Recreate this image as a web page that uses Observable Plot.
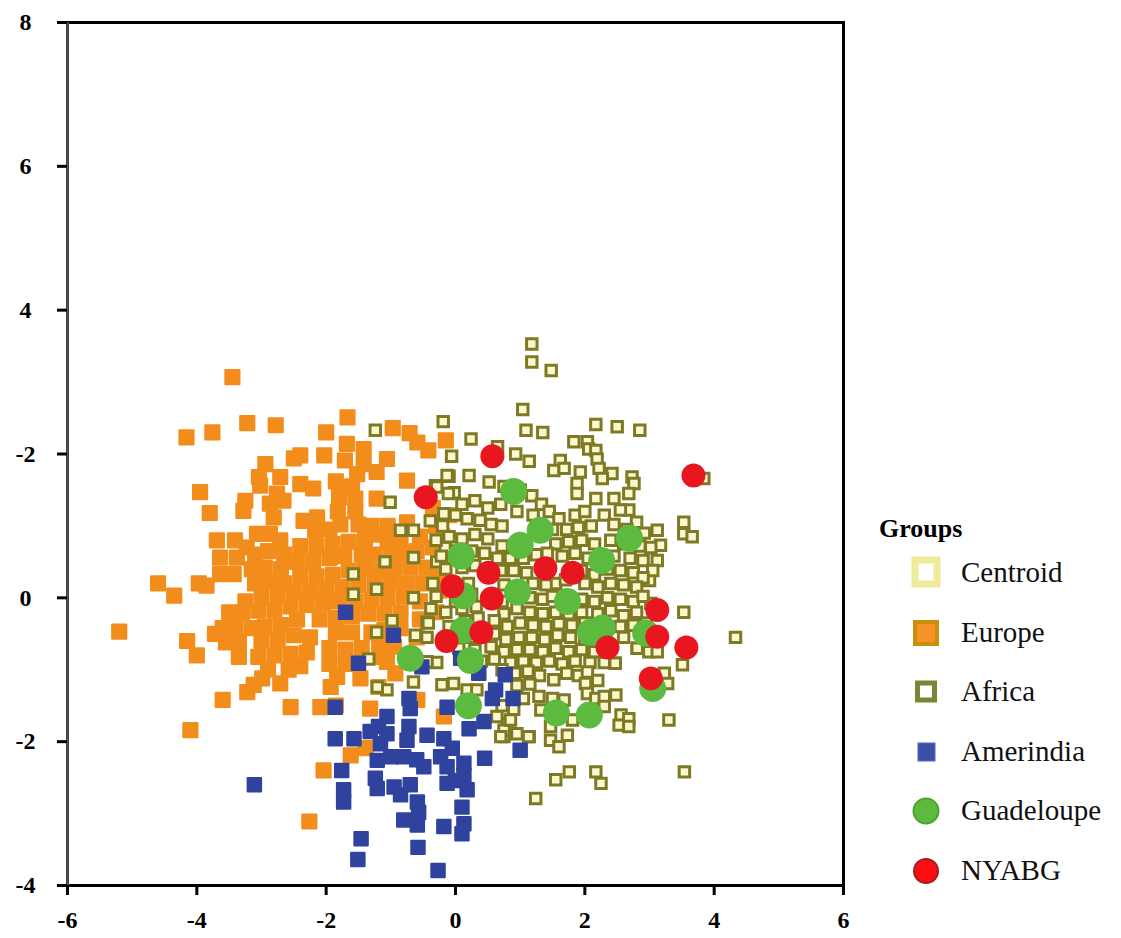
<!DOCTYPE html>
<html>
<head>
<meta charset="utf-8">
<script src="https://cdn.jsdelivr.net/npm/d3@7"></script>
<script src="https://cdn.jsdelivr.net/npm/@observablehq/plot@0.6"></script>
<style>
html,body{margin:0;padding:0;background:#fff}
#wrap{position:relative;width:1121px;height:938px;overflow:hidden;font-family:"Liberation Serif",serif}
#legend{position:absolute;left:0;top:0;width:1121px;height:938px;pointer-events:none}
#legend .t{position:absolute;font-weight:bold;font-size:26px;color:#000;line-height:30px}
#legend .l{position:absolute;left:961px;font-size:29px;color:#111;line-height:34px;white-space:nowrap}
#legend svg{position:absolute;left:905px;width:44px;height:44px;overflow:visible}
</style>
</head>
<body>
<div id="wrap"><div id="chart"></div><div id="legend"></div></div>
<script>
const xTicks = [-6,-4,-2,0,2,4,6];
const yTicks = [-4,-2,0,2,4,6,8];
const yTickLabels = ["-4","-2","0","-2","4","6","8"];

const europe = [
[-5.2,-.47],[-4.6,.2],[-4.35,.03],[-4.15,-.6],[-4.0,-.8],[-3.97,.2],[-3.85,.17],[-3.72,-.5],[-4.1,-1.84],[-3.6,-1.42],
[-3.45,3.07],[-4.16,2.23],[-3.76,2.3],[-3.22,2.43],[-2.78,2.4],[-2.0,2.3],[-1.67,2.51],[-.97,2.36],[-.71,2.29],[-.59,2.16],[-.42,2.05],[-.15,2.19],
[-2.4,1.98],[-2.5,1.94],[-2.03,1.98],[-1.68,2.14],[-1.42,2.07],[-1.71,1.91],[-1.42,1.86],[-1.06,1.93],[-1.22,1.75],[-1.52,1.72],[-.75,1.63],[-1.22,1.38],
[-2.94,1.86],[-3.04,1.68],[-3.02,1.56],[-2.71,1.68],[-2.76,1.45],[-2.4,1.58],[-2.2,1.52],[-3.25,1.35],[-3.28,1.21],[-3.95,1.47],[-3.8,1.18],[-2.87,1.31],[-2.66,1.35],[-2.81,1.12],
[-1.85,1.62],[-1.6,1.55],[-1.8,1.4],[-1.55,1.38],[-1.82,1.2],[-1.55,1.2],[-1.78,1.02],[-1.5,1.02],[-2.35,1.07],[-2.14,1.12],[-2.17,.94],[-1.95,.95],
[-3.07,.89],[-3.23,.7],[-2.87,.89],[-2.71,.8],[-3.69,.8],[-3.41,.8],[-3.64,.56],[-3.38,.56],[-3.64,.33],[-3.43,.33],[-3.1,.6],[-2.9,.65],[-2.65,.6],[-2.4,.72],[-2.15,.72],[-1.9,.75],[-1.65,.78],[-1.4,.82],[-1.2,.88],[-1.05,.78],[-.85,.8],[-.55,.85],[-.3,1.0],
[-3.15,.4],[-2.95,.42],[-2.7,.4],[-2.45,.5],[-2.2,.5],[-1.95,.55],[-1.72,.58],[-1.45,.6],[-1.25,.6],[-1.0,.6],[-.8,.62],[-.6,.65],[-.35,.7],[-.2,.55],
[-3.1,.2],[-2.9,.22],[-2.65,.2],[-2.4,.3],[-2.15,.3],[-1.9,.32],[-1.65,.38],[-1.4,.4],[-1.15,.38],[-.95,.42],[-.7,.42],[-.45,.42],[-.25,.3],
[-3.25,-.05],[-3.0,0],[-2.75,.02],[-2.5,.08],[-2.25,.1],[-2,.12],[-1.75,.15],[-1.5,.18],[-1.25,.18],[-1,.22],[-.75,.2],[-.5,.2],
[-3.5,-.2],[-3.3,-.2],[-3.05,-.18],[-2.8,-.18],[-2.55,-.12],[-2.3,-.1],[-2.05,-.08],[-1.8,-.05],[-1.55,-.05],[-1.3,-.02],[-1.05,0],[-.8,.02],[-.55,-.05],
[-3.6,-.42],[-3.4,-.38],[-3.15,-.42],[-2.95,-.4],[-2.7,-.38],[-2.45,-.3],[-2.1,-.3],[-1.85,-.28],[-1.6,-.25],[-1.35,-.22],[-1.1,-.22],[-.85,-.2],[-.55,-.3],
[-3.55,-.62],[-3.35,-.6],[-3.0,-.6],[-2.75,-.6],[-2.5,-.52],[-2.25,-.55],[-1.85,-.48],[-1.6,-.48],[-1.3,-.48],[-1.1,-.45],[-.85,-.42],[-.6,-.55],
[-3.35,-.82],[-3.05,-.82],[-2.8,-.8],[-2.55,-.78],[-2.3,-.76],[-1.95,-.7],[-1.7,-.72],[-1.45,-.7],[-1.18,-.65],[-.95,-.68],
[-2.9,-1.0],[-2.58,-1.0],[-2.4,-.95],[-1.95,-.92],[-1.7,-.92],[-1.12,-.82],[-1.06,-.89],[-.93,-1.05],
[-3.22,-1.31],[-3.12,-1.21],[-2.99,-1.12],[-2.71,-1.19],[-1.93,-1.24],[-1.83,-1.1],[-1.47,-1.12],[-1.19,-1.24],[-1.32,-1.54],[-2.55,-1.52],[-2.09,-1.52],[-.59,-1.42],[-.18,-1.65],
[-1.62,-2.19],[-2.04,-2.4],[-2.26,-3.11],[-1.39,-2.09],[-1.85,-1.5],
[-.25,.1],[-.3,-.2],[-.2,.85],[-.1,1.15],[-.35,1.25],[-1.3,1.0],[-1.05,1.0],[-.75,1.05]
];

const africa = [
[1.18,3.53],[1.18,3.28],[1.48,3.16],[1.04,2.62],[-.19,2.45],[.24,2.21],[1.09,2.33],[1.35,2.3],[1.83,2.17],[2.17,2.41],[2.5,2.38],[2.85,2.33],[-1.24,2.33],
[2.04,2.17],[2.06,2.07],[2.17,2.05],[2.19,1.93],[2.22,1.8],[-.06,1.97],[.65,2.1],[.93,2],[1.14,1.9],[1.62,1.91],[1.52,1.77],[1.68,1.8],[1.93,1.75],[2.42,1.73],[2.27,1.66],[2.73,1.68],[2.76,1.59],[2.68,1.45],
[-.1,1.69],[.21,1.7],[.52,1.61],[-.02,1.46],[-.31,1.56],[1.88,1.59],[1.88,1.45],[2.17,1.38],[2.45,1.38],[2.68,1.22],[2.55,1.22],[3.12,.94],[3.17,.73],[3.12,.52],[3,.24],[3.53,1.05],[3.53,.89],[3.66,.85],[3.84,1.66],[3.53,-.2],[4.33,-.55],[3.02,-.08],
[-.13,1.7],[-.29,1.54],[-.11,1.45],[-.18,1.17],[-.39,1.07],[-.85,.94],[-.65,.94],[-.16,.7],[-.65,.56],[-.29,.5],[-1.09,.5],[-1.58,.33],[-1.58,.05],[-1.22,.12],[-.65,0],[-1.01,1.33],[-.98,-.32],[-1.22,-.48],[-.62,-.52],[-.44,-.34],[-.44,-.55],[-1.34,-.85],[-.29,-.9],[-.44,-.89],[-.65,-1.17],[-1.06,-1.28],[-1.21,-1.24],[-.21,-1.21],[-.03,-1.19],
[.75,1.55],[1.0,1.5],[1.18,1.42],[1.33,1.3],[.1,1.3],[.3,1.35],[.5,1.25],[.7,1.3],[.95,1.2],[1.2,1.15],[1.45,1.2],[1.6,1.1],[1.85,1.15],[2.0,1.2],[2.3,1.15],[2.8,1.05],
[-.2,1.0],[0,1.15],[.18,1.1],[.38,1.08],[.55,1.02],[.72,1.0],[1.5,.95],[1.72,.95],[1.9,.98],[2.1,1.0],[2.45,1.02],[2.65,.95],[2.92,.9],
[-.3,.8],[-.1,.85],[.1,.82],[.3,.88],[.5,.82],[.72,.72],[1.55,.75],[1.75,.78],[1.95,.8],[2.15,.75],[2.4,.8],[2.6,.75],[2.85,.72],[3.02,.7],
[-.22,.58],[0,.65],[.25,.65],[.45,.62],[.65,.55],[.85,.55],[1.05,.55],[1.25,.6],[1.42,.62],[1.65,.58],[1.85,.62],[2.05,.55],[2.45,.58],[2.7,.55],[2.9,.52],[3.05,.38],
[-.15,.4],[.1,.42],[.3,.45],[.7,.38],[.9,.38],[1.1,.35],[1.55,.2],[1.95,.38],[2.15,.32],[2.35,.4],[2.55,.38],[2.75,.35],[2.9,.28],
[-.35,.2],[.2,.2],[.75,.18],[1.2,.2],[1.4,.18],[1.7,.25],[2.0,.2],[2.2,.15],[2.4,.2],[2.6,.18],[2.8,.15],
[-.3,.02],[.0,-.05],[.25,.05],[.72,-.05],[1.15,.0],[1.35,-.02],[1.5,.02],[1.95,-.02],[2.15,-.05],[2.35,.0],[2.55,-.02],[2.75,-.05],[2.9,.02],
[-.38,-.15],[-.15,-.2],[.1,-.15],[.32,-.12],[.75,-.22],[.95,-.15],[1.15,-.2],[1.35,-.22],[1.55,-.2],[1.75,-.22],[1.95,-.2],[2.2,-.22],[2.4,-.18],[2.6,-.25],[2.8,-.2],
[-.42,-.35],[-.1,-.4],[.15,-.32],[.35,-.28],[.6,-.32],[.8,-.4],[1.0,-.35],[1.2,-.38],[1.4,-.4],[1.6,-.36],[1.8,-.38],[2.0,-.35],[2.55,-.4],[2.75,-.38],[2.95,-.35],
[.25,-.55],[.6,-.5],[.78,-.58],[.98,-.55],[1.18,-.55],[1.38,-.58],[1.58,-.52],[1.78,-.55],[2.0,-.58],[2.6,-.55],[2.81,-.7],[2.99,-.75],[3.12,-.75],
[.05,-.7],[.3,-.72],[.55,-.68],[.75,-.75],[.95,-.72],[1.15,-.72],[1.35,-.75],[1.55,-.7],[1.75,-.75],[1.95,-.72],[2.15,-.75],
[.4,-.88],[.6,-.85],[.85,-.9],[1.05,-.88],[1.25,-.9],[1.45,-.88],[1.65,-.92],[1.85,-.88],[2.08,-.9],[2.3,-.9],[2.47,-.91],
[.72,-1.0],[.92,-1.05],[1.12,-1.02],[1.3,-1.08],[1.52,-1.14],[1.72,-1.05],[1.9,-1.08],[2.04,-1.03],[2.01,-1.19],[2.2,-1.15],
[.95,-1.22],[1.15,-1.2],[1.29,-1.37],[1.68,-1.42],[2.04,-1.33],[2.17,-1.4],[2.3,-1.37],[2.48,-1.35],[2.3,-1.51],[1.32,-1.56],[1.5,-1.4],
[2.56,-1.63],[2.53,-1.77],[2.68,-1.68],[2.68,-1.79],[3.51,-.93],[2.47,-.91],[3.23,-1.05],[3.28,-1.19],[3.3,-1.7],[3.54,-2.42],[2.81,-.7],
[1.81,-1.7],[1.14,-1.93],[1.73,-1.91],[1.47,-1.98],[1.6,-2.07],[1.47,-1.79],[1.76,-2.42],[1.55,-2.53],[2.17,-2.42],[2.25,-2.58],[1.24,-2.79],[.8,-1.75],[.75,-1.93],
[.18,-1.28],[.33,-1.28],[.64,-1.65],[.75,-1.84],[.85,-1.7],[.95,-1.89],[1.13,-1.93],[.7,-1.93],[.9,-1.55],[1.05,-1.4],[.72,-1.5]
];

const amerindia = [
[-3.11,-2.6],[-1.5,-.91],[-1.86,-1.52],[-.96,-.52],[-.72,-1.4],[-.7,-1.54],[.36,-1.05],[.77,-1.07],[.62,-1.28],[.57,-1.4],[.89,-1.4],[-.13,-1.52],[.21,-1.82],[.44,-1.72],[1,-2.12],[.45,-2.23],[-.52,-.96],[.08,-.84],[-1.7,-.2],
[-1.86,-1.96],[-1.57,-1.96],[-1.32,-1.86],[-1.06,-1.65],[-1.19,-1.79],[-1.06,-1.89],[-1.16,-2.03],[-1.21,-2.26],[-1,-2.21],[-.8,-2.21],[-.72,-1.79],[-.75,-1.98],[-.44,-1.91],[-.18,-1.96],[-.05,-2.09],[-.23,-2.21],[.13,-2.3],[-.13,-2.35],[.13,-2.47],[-.13,-2.58],[.18,-2.67],[0,-2.54],[-.49,-2.35],[-.6,-2.25],
[-1.24,-2.51],[-1.21,-2.65],[-.95,-2.63],[-.85,-2.74],[-.7,-2.6],[-.59,-2.84],[-.57,-2.98],[-.8,-3.09],[-.59,-3.16],[.1,-2.91],[.13,-3.14],[.1,-3.28],[-.18,-3.18],
[-1.76,-2.4],[-1.73,-2.67],[-1.73,-2.84],[-1.46,-3.35],[-1.51,-3.64],[-.58,-3.47],[-.27,-3.79]
];

const guadeloupe = [
[.9,1.48],[1.31,.94],[1,.73],[.09,.58],[2.26,.52],[2.69,.83],[.96,.08],[1.73,-.05],[.12,.03],[2.09,-.48],[2.27,-.42],[2.94,-.49],[-.7,-.84],[.23,-.87],[.2,-1.5],[1.56,-1.6],[2.07,-1.63],[3.05,-1.26],[.12,-.45]
];

const nyabg = [
[.57,1.97],[3.68,1.7],[-.46,1.4],[1.39,.41],[1.81,.35],[-.05,.16],[.51,.35],[.56,-.01],[3.12,-.17],[3.12,-.54],[3.57,-.69],[2.35,-.69],[.4,-.48],[-.14,-.6],[3.02,-1.12]
];

const legendItems = ["Centroid","Europe","Africa","Amerindia","Guadeloupe","NYABG"];

const pt = {x:d=>d[0], y:d=>d[1]};
const chart = Plot.plot({
  width:1121, height:938,
  marginLeft:67, marginRight:278, marginTop:22, marginBottom:53,
  x:{domain:[-6,6], axis:null},
  y:{domain:[-4,8], axis:null},
  style:{fontFamily:"'Liberation Serif',serif", fontWeight:"bold", fontSize:"24px", background:"#fff", color:"#000"},
  marks:[
    Plot.dot(europe,{...pt, symbol:"square", r:8, fill:"#f28d1c", stroke:"#f28d1c", strokeWidth:2, strokeLinejoin:"round"}),
    Plot.dot(africa,{...pt, symbol:"square", r:5.9, fill:"#fbf8cf", stroke:"#7e7a24", strokeWidth:3}),
    Plot.dot(amerindia,{...pt, symbol:"square", r:7.6, fill:"#2f439e", stroke:"#2f439e", strokeWidth:2, strokeLinejoin:"round"}),
    Plot.dot(guadeloupe,{...pt, r:13.5, fill:"#5cbb3e"}),
    Plot.dot(nyabg,{...pt, r:12, fill:"#e8171f"}),
    Plot.frame({stroke:"#000", strokeWidth:3}),
    Plot.ruleX([-6],{stroke:"#555", strokeWidth:2.5}),
    Plot.axisX({ticks:xTicks, tickSize:10, tickPadding:15, tickFormat:d=>String(d), strokeWidth:3, stroke:"#000", label:null}),
    Plot.axisY({ticks:yTicks, tickSize:10, tickPadding:32, textAnchor:"middle", tickFormat:d=>yTickLabels[yTicks.indexOf(d)], strokeWidth:3, stroke:"#000", label:null})
  ]
});
document.getElementById("chart").appendChild(chart);

// legend, beside the plot
const legendCfg = {
  Centroid:  {y:573, svg:'<rect x="10" y="8" width="22" height="24" fill="#fff" stroke="#eeeb9c" stroke-width="7"/>'},
  Europe:    {y:633, svg:'<rect x="10" y="10" width="22" height="22" fill="#f59327" stroke="#c9900e" stroke-width="4"/>'},
  Africa:    {y:692, svg:'<rect x="12.5" y="12" width="17" height="17" fill="#fff" stroke="#7c8534" stroke-width="5"/>'},
  Amerindia: {y:752, svg:'<rect x="13" y="12" width="17" height="18" fill="#3a50a6" stroke="#5566c0" stroke-width="1"/>'},
  Guadeloupe:{y:811, svg:'<circle cx="21" cy="21" r="12.5" fill="#5cbb3e" stroke="#4da22f" stroke-width="2"/>'},
  NYABG:     {y:871, svg:'<circle cx="21" cy="21" r="12" fill="#fb0d12" stroke="#a31d25" stroke-width="2"/>'}
};
const lg = document.getElementById("legend");
lg.innerHTML = '<div class="t" style="left:879px;top:514px">Groups</div>' + legendItems.map(k=>{
  const c = legendCfg[k];
  return `<svg style="top:${c.y-21}px" viewBox="0 0 44 44">${c.svg}</svg><div class="l" style="top:${c.y-18}px">${k}</div>`;
}).join("");
</script>
</body>
</html>
